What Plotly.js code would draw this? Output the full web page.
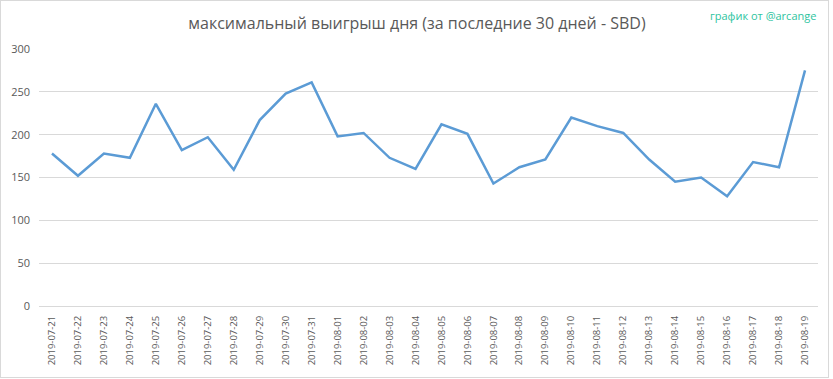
<!DOCTYPE html>
<html>
<head>
<meta charset="utf-8">
<script src="https://cdn.plot.ly/plotly-3.0.1.min.js"></script>
<style>
html,body{margin:0;padding:0;background:#fff;}
#frame{position:absolute;left:0;top:0;width:829px;height:378px;box-sizing:border-box;border:1px solid #d9d9d9;}
#chart{width:827px;height:376px;}
</style>
</head>
<body>
<div id="frame"><div id="chart"></div></div>
<script>
const dates = ["2019-07-21","2019-07-22","2019-07-23","2019-07-24","2019-07-25","2019-07-26","2019-07-27","2019-07-28","2019-07-29","2019-07-30","2019-07-31","2019-08-01","2019-08-02","2019-08-03","2019-08-04","2019-08-05","2019-08-06","2019-08-07","2019-08-08","2019-08-09","2019-08-10","2019-08-11","2019-08-12","2019-08-13","2019-08-14","2019-08-15","2019-08-16","2019-08-17","2019-08-18","2019-08-19"];
const maxWin = [178,152,178,173,236,182,197,159,217,248,261,198,202,173,160,212,201,143,162,171,220,210,202,171,145,150,128,168,162,275];
const yTicks = [0,50,100,150,200,250,300];
const titleText = "максимальный выигрыш дня (за последние 30 дней - SBD)";
const creditText = "график от @arcange";

const font = "Open Sans, Noto Sans, sans-serif";
Plotly.newPlot("chart", [{
  x: dates,
  y: maxWin,
  type: "scatter",
  mode: "lines",
  line: {color: "#5b9bd5", width: 2.5},
  hoverinfo: "x+y"
}], {
  width: 827, height: 376,
  margin: {l: 38, r: 10, t: 48, b: 71},
  paper_bgcolor: "#fff", plot_bgcolor: "#fff",
  showlegend: false,
  title: {text: titleText, x: 0.503, xref: "container", xanchor: "center", y: 0.94, yref: "container", yanchor: "middle",
          font: {family: font, size: 16, color: "#595959"}},
  xaxis: {type: "category", range: [-0.5, dates.length - 0.5], tickangle: -90,
          tickfont: {family: font, size: 9.5, color: "#595959"},
          showgrid: false, showline: true, linecolor: "#d9d9d9", linewidth: 1,
          ticks: "", ticklabelstandoff: 5, zeroline: false, fixedrange: true},
  yaxis: {range: [0, 300], tickvals: yTicks, ticktext: yTicks.map(String),
          tickfont: {family: font, size: 11, color: "#595959"},
          gridcolor: "#d9d9d9", gridwidth: 1, zeroline: false, showline: false,
          ticks: "", ticklabelstandoff: 8, fixedrange: true},
  annotations: [{text: creditText, xref: "paper", yref: "paper", x: 1.0, y: 1.0, yshift: 34,
                 xanchor: "right", yanchor: "middle", showarrow: false,
                 font: {family: font, size: 11, color: "#2ec4a0"}}]
}, {displayModeBar: false, staticPlot: true});
</script>
</body>
</html>
